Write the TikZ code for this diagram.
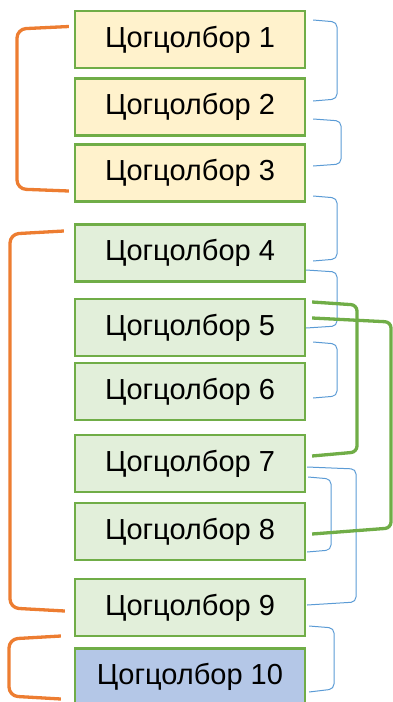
\documentclass[tikz,border=0pt]{standalone}
\usepackage{fontspec}
\setmainfont{Liberation Sans}
\usetikzlibrary{calc}
\definecolor{boxgreen}{HTML}{70AD47}
\definecolor{fillyellow}{HTML}{FFF2CC}
\definecolor{fillgreen}{HTML}{E2EFDA}
\definecolor{fillblue}{HTML}{B4C7E7}
\definecolor{bracketorange}{HTML}{ED7D31}
\definecolor{bracketblue}{HTML}{5B9BD5}
\begin{document}
\begin{tikzpicture}[x=1pt,y=-1pt,
  box/.style={draw=boxgreen, line width=2.2pt, minimum width=230pt, minimum height=57pt,
    inner sep=0pt, font=\fontsize{29}{34}\selectfont},
  ybox/.style={box, fill=fillyellow},
  gbox/.style={box, fill=fillgreen},
  bbox/.style={box, fill=fillblue},
  obr/.style={draw=bracketorange, line width=3.3pt, rounded corners=9pt},
  bbr/.style={draw=bracketblue, line width=1pt, rounded corners=5pt},
  gbr/.style={draw=boxgreen, line width=3.3pt, rounded corners=6pt}]
\useasboundingbox (0,0) rectangle (393,702);
\clip (0,0) rectangle (393,702);
\node[ybox] (b1) at (190,39.5) {Цогцолбор 1};
\node[ybox] (b2) at (190,107) {Цогцолбор 2};
\node[ybox] (b3) at (190,173) {Цогцолбор 3};
\node[gbox] (b4) at (190,253) {Цогцолбор 4};
\node[gbox] (b5) at (190,327.5) {Цогцолбор 5};
\node[gbox] (b6) at (190,391.5) {Цогцолбор 6};
\node[gbox] (b7) at (190,463.5) {Цогцолбор 7};
\node[gbox] (b8) at (190,531.5) {Цогцолбор 8};
\node[gbox] (b9) at (190,607.5) {Цогцолбор 9};
\node[bbox] (b10) at (190,677) {Цогцолбор 10};
% orange brackets
\draw[obr] ($(b1.west)+(-5,-13)$) -- (17,29) -- (17,189) -- ($(b3.west)+(-5,18)$);
\draw[obr] ($(b4.west)+(-10,-22)$) -- (10,234) -- (10,608) -- ($(b9.west)+(-9,3.5)$);
\draw[obr] ($(b10.west)+(-13,-41)$) -- (9,639) -- (9,696) -- ($(b10.west)+(-13,22)$);
% blue brackets
\draw[bbr] ($(b1.east)+(7,-19.5)$) -- (337,22) -- (337,99) -- ($(b2.east)+(7,-6)$);
\draw[bbr] ($(b2.east)+(7,12)$) -- (341,121) -- (341,164) -- ($(b3.east)+(7,-7)$);
\draw[bbr] ($(b3.east)+(7,23)$) -- (337,198) -- (337,259) -- ($(b4.east)+(7,8)$);
\draw[bbr] ($(b4.east)+(0,17)$) -- (337,272) -- (337,326) -- ($(b5.east)+(0,0.5)$);
\draw[bbr] ($(b5.east)+(7,14.5)$) -- (337,344) -- (337,396) -- ($(b6.east)+(7,6.5)$);
\draw[bbr] ($(b7.east)+(1,3.5)$) -- (356,469) -- (356,602) -- ($(b9.east)+(1,-2.5)$);
\draw[bbr] ($(b7.east)+(2,13.5)$) -- (331,479) -- (331,550) -- ($(b8.east)+(1,20.5)$);
\draw[bbr] ($(b9.east)+(3,18.5)$) -- (334,628) -- (334,689) -- ($(b10.east)+(3,15)$);
% green brackets
\draw[gbr] ($(b5.east)+(6,-25.5)$) -- (357,305) -- (357,452) -- ($(b7.east)+(6,-7.5)$);
\draw[gbr] ($(b5.east)+(6,-9.5)$) -- (391,322) -- (391,528) -- ($(b8.east)+(6,2.5)$);
\end{tikzpicture}
\end{document}
